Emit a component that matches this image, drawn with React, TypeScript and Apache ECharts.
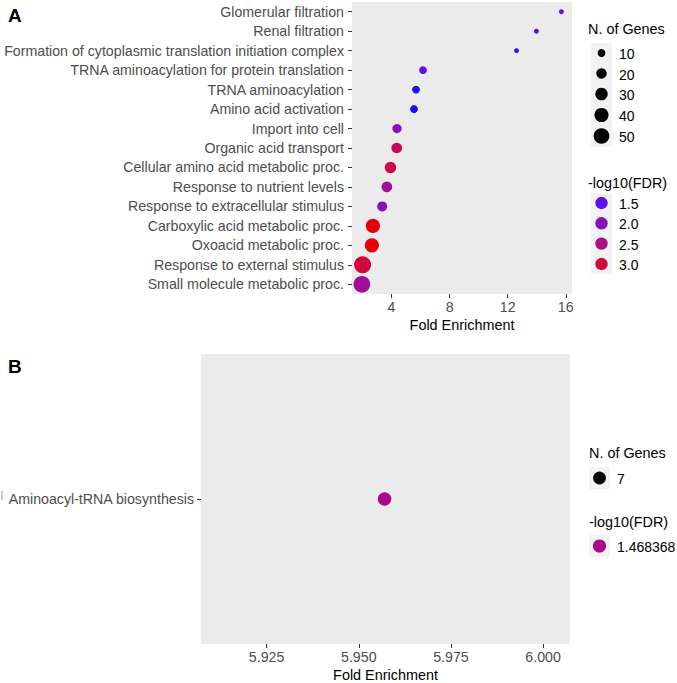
import React, { useEffect, useRef } from 'react';
import * as echarts from 'echarts';

// ---------- Panel A data ----------
const categoriesA = [
  'Glomerular filtration',
  'Renal filtration',
  'Formation of cytoplasmic translation initiation complex',
  'TRNA aminoacylation for protein translation',
  'TRNA aminoacylation',
  'Amino acid activation',
  'Import into cell',
  'Organic acid transport',
  'Cellular amino acid metabolic proc.',
  'Response to nutrient levels',
  'Response to extracellular stimulus',
  'Carboxylic acid metabolic proc.',
  'Oxoacid metabolic proc.',
  'Response to external stimulus',
  'Small molecule metabolic proc.',
];
const foldA = [15.7, 13.98, 12.61, 6.17, 5.69, 5.55, 4.38, 4.36, 3.93, 3.68, 3.36, 2.72, 2.65, 2.01, 1.96];
const genesA = [3, 3, 3, 10, 10, 10, 15, 21, 25, 21, 18, 40, 40, 60, 58];
const log10FdrA = [1.6, 1.5, 1.4, 1.58, 1.3, 1.28, 1.95, 2.8, 2.9, 2.3, 1.95, 3.4, 3.4, 3.0, 2.3];
const xTicksA = [4, 8, 12, 16];
const sizeBreaksA = [10, 20, 30, 40, 50];
const colorBreaksA = [1.5, 2.0, 2.5, 3.0];

// ---------- Panel B data ----------
const categoriesB = ['Aminoacyl-tRNA biosynthesis'];
const foldB = [5.957];
const genesB = [7];
const log10FdrB = [1.468368];
const xTicksB = [5.925, 5.95, 5.975, 6.0];

// colour scale (blue -> red)
const colorMin = 1.0;
const colorMax = 3.5;
const colorStops = [
  '#0000ff', '#100cf4', '#5b12ef', '#7810d4', '#8e0fb9', '#9f0e9f',
  '#ae0d85', '#c20a62', '#d4063f', '#de0620', '#e50000',
];
const colorB = '#a9078e';

const FONT = 'Liberation Sans, Arial, Helvetica, sans-serif';

const sizeOf = (n: number) => 1.5 + 2.0 * Math.sqrt(n);
const colorOf = (v: number) =>
  echarts.color.lerp((v - colorMin) / (colorMax - colorMin), colorStops) as string;

export default function App() {
  const ref = useRef<HTMLDivElement>(null);

  useEffect(() => {
    if (!ref.current) return;
    const chart = echarts.init(ref.current, undefined, { renderer: 'svg' });

    const dataA = categoriesA.map((c, i) => [foldA[i], c, log10FdrA[i], genesA[i]]);
    const dataB = categoriesB.map((c, i) => [foldB[i], c, log10FdrB[i], genesB[i]]);

    const axisLabelStyle = { color: '#4d4d4d', fontSize: 14.2, fontFamily: FONT };
    const nameStyle = { color: '#000', fontSize: 14.4, fontFamily: FONT };
    const tickStyle = { show: true, length: 4, lineStyle: { color: '#333333', width: 1 } };

    const graphics: any[] = [];
    const text = (t: string, x: number, y: number, opts: any = {}) =>
      graphics.push({
        type: 'text',
        x,
        y,
        style: {
          text: t,
          fill: opts.fill || '#000',
          font: opts.font || `14.4px ${FONT}`,
          verticalAlign: 'middle',
          align: opts.align || 'left',
        },
      });

    // Panel letters
    text('A', 8, 15, { font: `bold 19px ${FONT}` });
    text('B', 8, 366, { font: `bold 19px ${FONT}` });

    // Legend A: size
    text('N. of Genes', 588, 29);
    const sizeY = [53, 73.5, 94, 115, 136];
    graphics.push({ type: 'rect', shape: { x: 591, y: 43, width: 21, height: 104 }, style: { fill: '#f2f2f2' } });
    sizeBreaksA.forEach((n, i) => {
      graphics.push({ type: 'circle', shape: { cx: 601.5, cy: sizeY[i], r: sizeOf(n) / 2 }, style: { fill: '#000' } });
      text(String(n), 619, sizeY[i] + 1, { font: `14px ${FONT}` });
    });

    // Legend A: colour
    text('-log10(FDR)', 588, 183);
    const colY = [203, 223.3, 243.6, 264];
    graphics.push({ type: 'rect', shape: { x: 591, y: 193, width: 21, height: 81 }, style: { fill: '#f2f2f2' } });
    colorBreaksA.forEach((v, i) => {
      graphics.push({ type: 'circle', shape: { cx: 601.5, cy: colY[i], r: 6.2 }, style: { fill: colorOf(v) } });
      text(v.toFixed(1), 619, colY[i] + 1, { font: `14px ${FONT}` });
    });

    // Legend B
    text('N. of Genes', 589, 453);
    graphics.push({ type: 'rect', shape: { x: 589, y: 467, width: 21, height: 22 }, style: { fill: '#f2f2f2' } });
    graphics.push({ type: 'circle', shape: { cx: 599.5, cy: 478, r: 6.4 }, style: { fill: '#000' } });
    text(String(genesB[0]), 617, 479, { font: `14px ${FONT}` });
    text('-log10(FDR)', 589, 522);
    graphics.push({ type: 'rect', shape: { x: 589, y: 535, width: 21, height: 22 }, style: { fill: '#f2f2f2' } });
    graphics.push({ type: 'circle', shape: { cx: 599.5, cy: 546, r: 6.6 }, style: { fill: colorB } });
    text(String(log10FdrB[0]), 617, 547, { font: `14px ${FONT}` });

    // small artifact line at left of panel B
    graphics.push({ type: 'line', shape: { x1: 2, y1: 491, x2: 2, y2: 500 }, style: { stroke: '#999', lineWidth: 1 } });

    chart.setOption({
      animation: false,
      backgroundColor: '#ffffff',
      textStyle: { fontFamily: FONT },
      grid: [
        { left: 352, top: 2, width: 220, height: 292, show: true, backgroundColor: '#ebebeb', borderWidth: 0 },
        { left: 201, top: 354, width: 369, height: 293, show: true, backgroundColor: '#ebebeb', borderWidth: 0 },
      ],
      xAxis: [
        {
          type: 'value',
          gridIndex: 0,
          min: 1.28,
          max: 16.43,
          axisLine: { show: false },
          splitLine: { show: false },
          axisTick: { ...tickStyle, customValues: xTicksA },
          axisLabel: { ...axisLabelStyle, margin: 6, customValues: xTicksA },
          name: 'Fold Enrichment',
          nameLocation: 'middle',
          nameGap: 24,
          nameTextStyle: nameStyle,
        },
        {
          type: 'value',
          gridIndex: 1,
          min: 5.9072,
          max: 6.0073,
          axisLine: { show: false },
          splitLine: { show: false },
          axisTick: { ...tickStyle, customValues: xTicksB },
          axisLabel: {
            ...axisLabelStyle,
            margin: 6,
            customValues: xTicksB,
            formatter: (v: number) => v.toFixed(3),
          },
          name: 'Fold Enrichment',
          nameLocation: 'middle',
          nameGap: 24,
          nameTextStyle: nameStyle,
        },
      ],
      yAxis: [
        {
          type: 'category',
          gridIndex: 0,
          data: categoriesA,
          inverse: true,
          axisLine: { show: false },
          splitLine: { show: false },
          axisTick: { ...tickStyle, alignWithLabel: true },
          axisLabel: { ...axisLabelStyle, margin: 8 },
        },
        {
          type: 'category',
          gridIndex: 1,
          data: categoriesB,
          axisLine: { show: false },
          splitLine: { show: false },
          axisTick: { ...tickStyle, alignWithLabel: true },
          axisLabel: { ...axisLabelStyle, margin: 7 },
        },
      ],
      visualMap: [
        {
          type: 'continuous',
          show: false,
          seriesIndex: 0,
          dimension: 2,
          min: colorMin,
          max: colorMax,
          inRange: { color: colorStops },
        },
      ],
      series: [
        {
          type: 'scatter',
          xAxisIndex: 0,
          yAxisIndex: 0,
          data: dataA,
          encode: { x: 0, y: 1 },
          symbol: 'circle',
          symbolSize: (val: any) => sizeOf(val[3]),
          itemStyle: { opacity: 1 },
        },
        {
          type: 'scatter',
          xAxisIndex: 1,
          yAxisIndex: 1,
          data: dataB,
          encode: { x: 0, y: 1 },
          symbol: 'circle',
          symbolSize: 13.5,
          itemStyle: { color: colorB, opacity: 1 },
        },
      ],
      graphic: graphics,
    });

    return () => chart.dispose();
  }, []);

  return (
    <div
      ref={ref}
      style={{ position: 'fixed', left: 0, top: 0, width: 677, height: 683 }}
    />
  );
}
